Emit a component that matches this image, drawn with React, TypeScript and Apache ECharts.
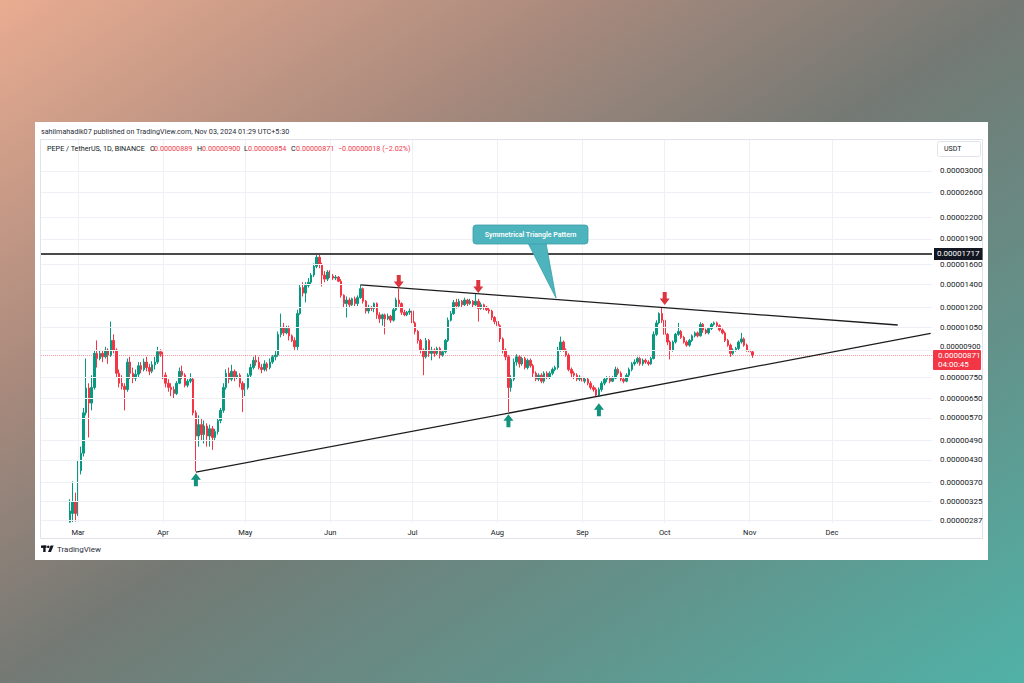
import React, { useEffect, useRef } from 'react';
import * as echarts from 'echarts';

// ---------- data ----------
const CATEGORY_START = '2024-02-17';
const CATEGORY_END = '2025-01-06';
const FIRST_CANDLE = '2024-02-27';
const UNIT = 1e-8; // values below are in units of 0.00000001

// [open, close, low, high]
const febCandles = [
  [283, 305, 282, 330], [300, 325, 283, 372], [325, 300, 284, 345],
];
const marCandles = [
  [305, 400, 295, 430], [400, 450, 390, 470], [450, 590, 440, 610], [590, 697, 580, 850],
  [697, 630, 500, 720], [630, 700, 600, 760], [700, 880, 690, 900], [880, 850, 800, 960],
  [850, 880, 840, 900], [880, 860, 830, 900], [860, 900, 850, 920], [900, 870, 820, 910],
  [870, 960, 860, 1090], [960, 900, 880, 1000], [900, 770, 750, 910], [770, 720, 700, 790],
  [720, 705, 690, 760], [705, 690, 600, 720], [690, 830, 680, 850], [830, 770, 740, 860],
  [770, 745, 720, 800], [745, 765, 730, 790], [765, 810, 750, 830], [810, 790, 770, 830],
  [790, 830, 780, 850], [830, 800, 780, 860], [800, 780, 760, 820], [780, 815, 770, 835],
  [815, 830, 790, 860], [830, 890, 820, 920], [890, 875, 860, 905],
];
const aprCandles = [
  [875, 760, 740, 890], [760, 720, 700, 775], [720, 700, 680, 740], [700, 690, 660, 720],
  [690, 672, 650, 705], [672, 720, 665, 730], [720, 780, 715, 800], [780, 760, 740, 810],
  [760, 710, 700, 770], [710, 730, 700, 740], [730, 740, 720, 770], [740, 590, 580, 750],
  [590, 505, 398, 600], [505, 545, 470, 580], [545, 510, 490, 570], [510, 540, 480, 560],
  [540, 505, 470, 550], [505, 530, 470, 545], [530, 500, 460, 540], [500, 520, 490, 530],
  [520, 560, 510, 570], [560, 600, 550, 610], [600, 700, 590, 720], [700, 770, 690, 790],
  [770, 740, 720, 800], [740, 780, 730, 815], [780, 750, 730, 790], [750, 760, 740, 780],
  [760, 720, 700, 770], [720, 690, 593, 730],
];
const mayCandles = [
  [690, 700, 660, 720], [700, 760, 690, 770], [760, 800, 750, 820], [800, 840, 790, 860],
  [840, 830, 810, 870], [830, 800, 790, 860], [800, 790, 770, 820], [790, 820, 780, 840],
  [820, 800, 780, 830], [800, 830, 790, 850], [830, 860, 820, 870], [860, 870, 840, 900],
  [870, 1000, 860, 1020], [1000, 1050, 980, 1150], [1050, 1010, 990, 1080], [1010, 1040, 1000, 1060],
  [1040, 990, 960, 1060], [990, 960, 950, 1000], [960, 920, 900, 980], [920, 1150, 900, 1180],
  [1150, 1370, 1140, 1400], [1370, 1320, 1290, 1420], [1320, 1390, 1240, 1420], [1390, 1420, 1370, 1460],
  [1420, 1490, 1400, 1510], [1490, 1580, 1470, 1610], [1580, 1680, 1560, 1717], [1680, 1600, 1560, 1710],
  [1600, 1490, 1380, 1620], [1490, 1450, 1420, 1530], [1450, 1520, 1430, 1540],
];
const junCandles = [
  [1520, 1480, 1460, 1540], [1480, 1460, 1440, 1500], [1460, 1470, 1440, 1490], [1470, 1430, 1420, 1480],
  [1430, 1300, 1280, 1450], [1300, 1230, 1200, 1310], [1230, 1260, 1120, 1290], [1260, 1220, 1200, 1280],
  [1220, 1270, 1210, 1280], [1270, 1230, 1210, 1290], [1230, 1280, 1210, 1300], [1280, 1360, 1270, 1392],
  [1360, 1250, 1230, 1370], [1250, 1170, 1150, 1260], [1170, 1200, 1150, 1220], [1200, 1190, 1170, 1210],
  [1190, 1230, 1160, 1240], [1230, 1140, 1110, 1240], [1140, 1110, 1080, 1160], [1110, 1140, 1060, 1150],
  [1140, 1110, 1000, 1150], [1110, 1130, 1100, 1150], [1130, 1100, 1080, 1140], [1100, 1180, 1090, 1200],
  [1180, 1260, 1170, 1280], [1260, 1230, 1200, 1360], [1230, 1160, 1140, 1240], [1160, 1140, 1130, 1180],
  [1140, 1160, 1130, 1170], [1160, 1170, 1140, 1190],
];
const julCandles = [
  [1170, 1080, 1060, 1180], [1080, 1020, 1000, 1090], [1020, 960, 940, 1030], [960, 900, 880, 970],
  [900, 860, 760, 910], [860, 960, 850, 976], [960, 880, 860, 970], [880, 900, 840, 920],
  [900, 880, 860, 910], [880, 910, 870, 920], [910, 870, 850, 920], [870, 890, 860, 900],
  [890, 960, 880, 970], [960, 1100, 950, 1120], [1100, 1150, 1090, 1170], [1150, 1240, 1140, 1260],
  [1240, 1210, 1190, 1270], [1210, 1250, 1200, 1270], [1250, 1220, 1200, 1260], [1220, 1260, 1210, 1280],
  [1260, 1230, 1210, 1270], [1230, 1250, 1220, 1270], [1250, 1220, 1200, 1260], [1220, 1250, 1210, 1320],
  [1250, 1190, 1090, 1270], [1190, 1220, 1180, 1240], [1220, 1200, 1180, 1230], [1200, 1180, 1170, 1210],
  [1180, 1170, 1150, 1200], [1170, 1120, 1100, 1180], [1120, 1090, 1070, 1130],
];
const augCandles = [
  [1090, 1060, 1030, 1100], [1060, 970, 950, 1070], [970, 900, 880, 980], [900, 860, 840, 910],
  [860, 700, 593, 870], [700, 740, 680, 760], [740, 830, 730, 850], [830, 860, 810, 875],
  [860, 820, 800, 870], [820, 850, 810, 860], [850, 800, 790, 860], [800, 840, 790, 850],
  [840, 810, 800, 850], [810, 770, 750, 820], [770, 740, 730, 780], [740, 760, 730, 770],
  [760, 730, 720, 770], [730, 770, 720, 780], [770, 750, 740, 780], [750, 770, 740, 780],
  [770, 790, 760, 800], [790, 800, 780, 810], [800, 900, 790, 920], [900, 950, 890, 985],
  [950, 900, 890, 960], [900, 870, 860, 910], [870, 790, 780, 880], [790, 770, 750, 800],
  [770, 760, 740, 780], [760, 740, 730, 770], [740, 750, 730, 760],
];
const sepCandles = [
  [750, 730, 720, 760], [730, 740, 720, 750], [740, 720, 710, 750], [720, 700, 690, 730],
  [700, 690, 680, 710], [690, 665, 657, 700], [665, 690, 660, 700], [690, 720, 680, 730],
  [720, 740, 710, 750], [740, 745, 725, 755], [745, 730, 720, 755], [730, 745, 725, 755],
  [745, 790, 740, 805], [790, 770, 760, 800], [770, 740, 730, 780], [740, 730, 720, 750],
  [730, 760, 725, 770], [760, 790, 750, 800], [790, 820, 780, 830], [820, 830, 810, 845],
  [830, 850, 820, 860], [850, 820, 810, 860], [820, 840, 810, 850], [840, 830, 820, 850],
  [830, 820, 810, 840], [820, 850, 815, 860], [850, 1000, 845, 1020], [1000, 1080, 990, 1100],
  [1080, 1150, 1070, 1160], [1150, 1100, 1080, 1195],
];
const octCandles = [
  [1100, 1000, 980, 1110], [1000, 950, 930, 1010], [950, 900, 845, 960], [900, 950, 890, 960],
  [950, 1000, 940, 1010], [1000, 1020, 990, 1080], [1020, 980, 970, 1030], [980, 950, 940, 990],
  [950, 930, 920, 960], [930, 960, 920, 970], [960, 990, 950, 1000], [990, 1010, 980, 1020],
  [1010, 990, 980, 1020], [990, 1070, 985, 1085], [1070, 1030, 1010, 1080], [1030, 1010, 1000, 1040],
  [1010, 1040, 1000, 1050], [1040, 1070, 1030, 1080], [1070, 1080, 1060, 1090], [1080, 1060, 1050, 1090],
  [1060, 1030, 1020, 1070], [1030, 1010, 1000, 1040], [1010, 960, 950, 1020], [960, 930, 920, 970],
  [930, 880, 860, 940], [880, 900, 870, 910], [900, 910, 890, 920], [910, 950, 900, 960],
  [950, 970, 940, 1010], [970, 930, 920, 980], [930, 900, 890, 940],
];
const novCandles = [
  [900, 889, 870, 910], [889, 871, 854, 900],
];

const priceTicks = [3000, 2600, 2200, 1900, 1600, 1400, 1200, 1050, 900, 750, 650, 570, 490, 430, 370, 325, 287];
const athLevel = 1717;
const lastPrice = 871;
const countdown = '04:00:45';
const upperTrend = [['2024-06-12', 1394], ['2024-12-25', 1065]];
const lowerTrend = [['2024-04-13', 396], ['2025-01-06', 1006]];
const sellArrows = [['2024-06-26', 1427], ['2024-07-25', 1380], ['2024-10-01', 1273]];
const buyArrows = [['2024-04-13', 376], ['2024-08-05', 559], ['2024-09-07', 602]];
const monthNames = ['Jan', 'Feb', 'Mar', 'Apr', 'May', 'Jun', 'Jul', 'Aug', 'Sep', 'Oct', 'Nov', 'Dec'];

const headerLine1 = 'sahilmahadik07 published on TradingView.com, Nov 03, 2024 01:29 UTC+5:30';
const symbolTitle = 'PEPE / TetherUS, 1D, BINANCE';
const ohlcLegend = [['O', '0.00000889'], ['H', '0.00000900'], ['L', '0.00000854'], ['C', '0.00000871']];
const changeText = '\u22120.00000018 (\u22122.02%)';
const calloutText = 'Symmetrical Triangle Pattern';

// ---------- helpers ----------
const FONT = 'Roboto, "Noto Sans", sans-serif';
const GREEN = '#089981';
const RED = '#f23645';
const DARK = '#131722';
const GRID = '#eef0f5';

function buildCategories(): string[] {
  const out: string[] = [];
  const [ys, ms, ds] = CATEGORY_START.split('-').map(Number);
  const d = new Date(Date.UTC(ys, ms - 1, ds));
  for (let k = 0; k < 1000; k++) {
    const s = d.toISOString().slice(0, 10);
    out.push(s);
    if (s === CATEGORY_END) break;
    d.setUTCDate(d.getUTCDate() + 1);
  }
  return out;
}

const fmt = (v: number) => (v * UNIT).toFixed(8);
const isMonthLabel = (v: string) => typeof v === 'string' && v.endsWith('-01') && v.startsWith('2024');

const downArrow = 'path://M3,0L7,0L7,6L10,6L5,12L0,6L3,6Z';
const upArrow = 'path://M5,0L10,6L7,6L7,12L3,12L3,6L0,6Z';

export default function App() {
  const ref = useRef<HTMLDivElement>(null);

  useEffect(() => {
    if (!ref.current) return;
    const chart = echarts.init(ref.current, null, { renderer: 'svg' });
    const categories = buildCategories();
    const idx = (d: string) => categories.indexOf(d);
    const first = idx(FIRST_CANDLE);
    const all = [
      ...febCandles, ...marCandles, ...aprCandles, ...mayCandles, ...junCandles,
      ...julCandles, ...augCandles, ...sepCandles, ...octCandles, ...novCandles,
    ];
    const candleData = all.map((c, i) => [first + i, c[0] * UNIT, c[1] * UNIT, c[2] * UNIT, c[3] * UNIT]);

    const gridLines = priceTicks.map((v) => ({
      yAxis: v * UNIT,
      lineStyle: { color: GRID, width: 1, type: 'solid' },
      label: {
        show: true, formatter: fmt(v), position: 'end', distance: 8, color: DARK, fontSize: 8, fontFamily: FONT,
        // the label sitting right on top of the live-price tag is nudged just above it
        ...(v === 900 ? { verticalAlign: 'bottom', fontSize: 7.6 } : {}),
      },
    }));
    const monthLines = categories
      .map((c, i) => (isMonthLabel(c) ? i : -1))
      .filter((i) => i >= 0)
      .map((i) => ({ xAxis: i, lineStyle: { color: GRID, width: 1, type: 'solid' }, label: { show: false } }));

    const trendLine = (pts: any[]) => [
      { coord: [idx(pts[0][0]), pts[0][1] * UNIT], lineStyle: { color: '#1c1c1c', width: 1.3, type: 'solid' }, label: { show: false } },
      { coord: [idx(pts[1][0]), pts[1][1] * UNIT] },
    ];

    const option: any = {
      animation: false,
      backgroundColor: new echarts.graphic.LinearGradient(0, 0, 1, 1, [
        { offset: 0, color: '#e9ac91' },
        { offset: 0.28, color: '#aa8a7d' },
        { offset: 0.5, color: '#747974' },
        { offset: 0.75, color: '#62938b' },
        { offset: 1, color: '#50b2a7' },
      ]),
      grid: { left: 41, right: 92, top: 140, bottom: 160 },
      xAxis: {
        type: 'category',
        data: categories,
        boundaryGap: true,
        axisLine: { show: false },
        axisTick: { show: false },
        axisLabel: {
          interval: (_i: number, v: string) => isMonthLabel(v),
          formatter: (v: string) => monthNames[Number(v.slice(5, 7)) - 1],
          color: DARK, fontSize: 7.5, fontFamily: FONT, margin: 5,
        },
        splitLine: { show: false },
      },
      yAxis: {
        type: 'log',
        logBase: 10,
        position: 'right',
        min: 281.3 * UNIT,
        max: 3695 * UNIT,
        axisLabel: { show: false },
        axisLine: { show: false },
        axisTick: { show: false },
        splitLine: { show: false },
      },
      series: [
        {
          type: 'candlestick',
          data: candleData,
          encode: { x: 0, y: [1, 2, 3, 4] },
          barWidth: 2,
          clip: true,
          itemStyle: { color: GREEN, color0: RED, borderColor: GREEN, borderColor0: RED, borderWidth: 1 },
          markLine: {
            silent: true,
            symbol: ['none', 'none'],
            precision: 14,
            animation: false,
            data: [
              ...gridLines,
              ...monthLines,
              {
                yAxis: lastPrice * UNIT,
                lineStyle: { color: RED, width: 1, type: 'dotted', opacity: 0.5 },
                label: { show: false },
              },
              {
                yAxis: athLevel * UNIT,
                lineStyle: { color: '#4a4a4a', width: 2, type: 'solid' },
                label: {
                  show: true, formatter: fmt(athLevel), position: 'end', distance: 2,
                  color: '#ffffff', backgroundColor: DARK, padding: [2, 3, 2, 3],
                  fontSize: 8, fontFamily: FONT,
                },
              },
              trendLine(upperTrend),
              trendLine(lowerTrend),
            ],
          },
          markPoint: {
            silent: true,
            animation: false,
            label: { show: false },
            data: [
              ...sellArrows.map(([d, v]: any) => ({
                coord: [idx(d), v * UNIT], symbol: downArrow, symbolSize: [10, 13],
                itemStyle: { color: '#dc3540' }, label: { show: false },
              })),
              ...buyArrows.map(([d, v]: any) => ({
                coord: [idx(d), v * UNIT], symbol: upArrow, symbolSize: [10, 13],
                itemStyle: { color: '#13937d' }, label: { show: false },
              })),
            ],
          },
        },
      ],
    };
    chart.setOption(option);

    const yLast = chart.convertToPixel({ yAxisIndex: 0 }, lastPrice * UNIT) as number;

    const txt = (text: string, x: number, y: number, fill: string, size: number, extra: any = {}) => ({
      type: 'text', x, y, silent: true, z: 80,
      style: { text, fill, fontSize: size, fontFamily: FONT, verticalAlign: 'middle', align: 'left', ...extra },
    });

    const legendEls: any[] = [];
    const legendX = [[150, 154], [197, 202], [244, 248], [291, 296]];
    ohlcLegend.forEach(([k, v], i) => {
      legendEls.push(txt(k, legendX[i][0], 148, DARK, 7.2));
      legendEls.push(txt(v, legendX[i][1], 148, RED, 7.2));
    });

    chart.setOption({
      graphic: {
        elements: [
          { type: 'rect', z: -10, silent: true, shape: { x: 35, y: 122, width: 953, height: 438 }, style: { fill: '#ffffff' } },
          { type: 'rect', z: -9, silent: true, shape: { x: 40.5, y: 139.5, width: 942, height: 399 }, style: { fill: 'none', stroke: '#e0e3eb', lineWidth: 1 } },
          txt(headerLine1, 41, 131.5, '#2a2e39', 7.2),
          txt(symbolTitle, 47, 148, DARK, 7.2),
          ...legendEls,
          txt(changeText, 338, 148, RED, 7.2),
          { type: 'rect', z: 50, silent: true, shape: { x: 937.5, y: 141.5, width: 43, height: 15, r: 2 }, style: { fill: '#ffffff', stroke: '#e0e3eb', lineWidth: 1 } },
          txt('USDT', 944, 149, DARK, 7),
          // current price tag
          { type: 'rect', z: 60, silent: true, shape: { x: 933, y: yLast - 5, width: 48, height: 20, r: 1 }, style: { fill: RED } },
          txt(fmt(lastPrice), 938, yLast + 0.5, '#ffffff', 8),
          txt(countdown, 938, yLast + 9.5, '#ffffff', 8),
          // callout
          { type: 'polygon', z: 55, silent: true, shape: { points: [[528, 243], [546, 243], [556, 298]] }, style: { fill: '#4db3bd', stroke: '#3b9fa9', lineWidth: 0.8 } },
          { type: 'rect', z: 56, silent: true, shape: { x: 473, y: 225, width: 115, height: 19, r: 3 }, style: { fill: '#4db3bd', stroke: '#3b9fa9', lineWidth: 0.8 } },
          txt(calloutText, 530.5, 234.5, '#ffffff', 7, { align: 'center', fontWeight: 600 }),
          // TradingView logo
          { type: 'rect', z: 50, silent: true, shape: { x: 41, y: 545.5, width: 5.5, height: 2.4 }, style: { fill: DARK } },
          { type: 'rect', z: 50, silent: true, shape: { x: 43.2, y: 545.5, width: 2.4, height: 6.5 }, style: { fill: DARK } },
          { type: 'circle', z: 50, silent: true, shape: { cx: 48.3, cy: 546.8, r: 1.3 }, style: { fill: DARK } },
          { type: 'polygon', z: 50, silent: true, shape: { points: [[50.6, 545.5], [53.6, 545.5], [51, 552], [48, 552]] }, style: { fill: DARK } },
          txt('TradingView', 57, 549, '#2a2e39', 8),
        ],
      },
    });

    return () => chart.dispose();
  }, []);

  return <div ref={ref} style={{ position: 'fixed', left: 0, top: 0, width: 1024, height: 683 }} />;
}
